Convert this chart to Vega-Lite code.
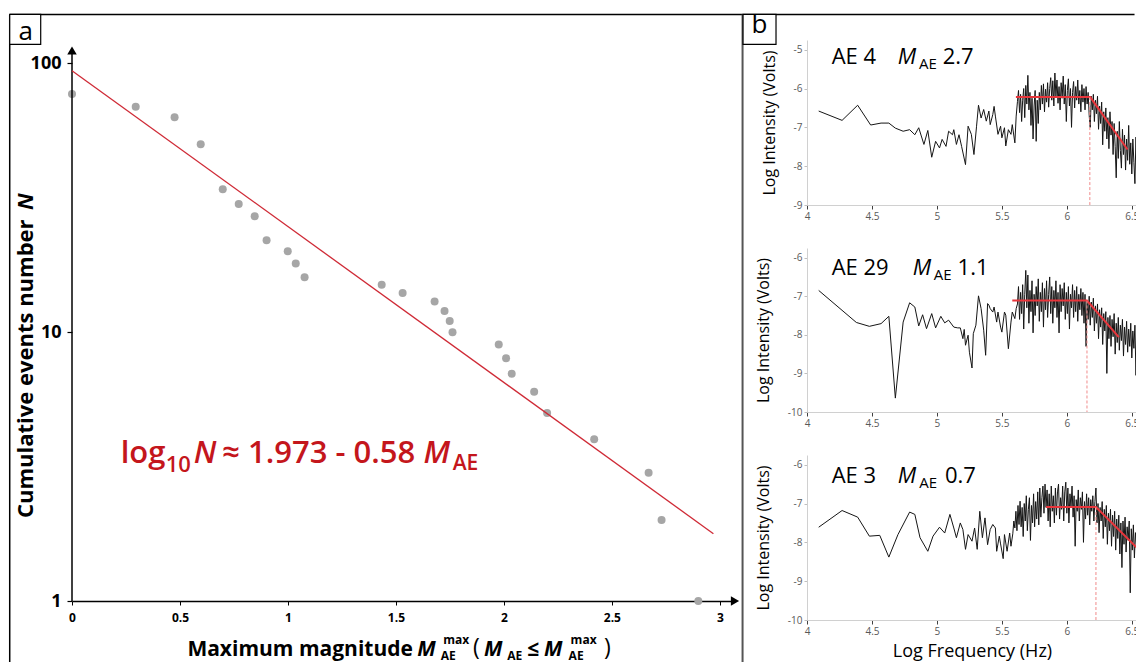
{
"$schema": "https://vega.github.io/schema/vega-lite/v6.json",
"background": "white",
"padding": {"left": 8, "top": 12, "right": 0, "bottom": 0},
"config": {"font": "Open Sans", "view": {"stroke": null}, "axis": {"grid": false}},
"data": {"values": [{}]},
"datasets": {
"ge": [{"M":0,"N":77},{"M":0.295,"N":69},{"M":0.475,"N":63},{"M":0.596,"N":50},{"M":0.698,"N":34},{"M":0.772,"N":30},{"M":0.846,"N":27},{"M":0.901,"N":22},{"M":0.999,"N":20},{"M":1.036,"N":18},{"M":1.077,"N":16},{"M":1.434,"N":15},{"M":1.531,"N":14},{"M":1.679,"N":13},{"M":1.725,"N":12},{"M":1.749,"N":11},{"M":1.762,"N":10},{"M":1.976,"N":9},{"M":2.01,"N":8},{"M":2.036,"N":7},{"M":2.14,"N":6},{"M":2.2,"N":5},{"M":2.418,"N":4},{"M":2.67,"N":3},{"M":2.73,"N":2},{"M":2.9,"N":1}],
"gefit": [{"M":0,"N":93.97},{"M":2.97,"N":1.78}],
"ae4": [{"f":4.09,"v":-6.58},{"f":4.27,"v":-6.82},{"f":4.39,"v":-6.43},{"f":4.49,"v":-6.94},{"f":4.57,"v":-6.89},{"f":4.63,"v":-6.89},{"f":4.68,"v":-7.02},{"f":4.74,"v":-7.1},{"f":4.79,"v":-7.06},{"f":4.83,"v":-7.19},{"f":4.86,"v":-7.01},{"f":4.9,"v":-7.44},{"f":4.93,"v":-7.08},{"f":4.96,"v":-7.77},{"f":4.99,"v":-7.36},{"f":5.02,"v":-7.53},{"f":5.04,"v":-7.31},{"f":5.07,"v":-7.49},{"f":5.09,"v":-7.1},{"f":5.12,"v":-7.19},{"f":5.13,"v":-7.06},{"f":5.15,"v":-7.44},{"f":5.17,"v":-7.19},{"f":5.19,"v":-7.49},{"f":5.22,"v":-7.96},{"f":5.24,"v":-6.97},{"f":5.265,"v":-7.18},{"f":5.285,"v":-7.7},{"f":5.305,"v":-6.97},{"f":5.32,"v":-6.43},{"f":5.34,"v":-6.76},{"f":5.36,"v":-6.54},{"f":5.38,"v":-6.84},{"f":5.4,"v":-6.58},{"f":5.41,"v":-6.93},{"f":5.43,"v":-6.67},{"f":5.44,"v":-6.46},{"f":5.45,"v":-6.71},{"f":5.47,"v":-7.18},{"f":5.49,"v":-6.97},{"f":5.5,"v":-7.27},{"f":5.52,"v":-7.01},{"f":5.53,"v":-7.48},{"f":5.55,"v":-7.06},{"f":5.57,"v":-7.18},{"f":5.58,"v":-6.93},{"f":5.6,"v":-7.4},{"f":5.61,"v":-6.71},{"f":5.62,"v":-6.33},
{"f":5.628,"v":-6.05},{"f":5.636,"v":-6.62},{"f":5.644,"v":-6.15},{"f":5.652,"v":-6.85},{"f":5.66,"v":-6.3},{"f":5.668,"v":-6.0},{"f":5.676,"v":-6.75},{"f":5.684,"v":-5.92},{"f":5.692,"v":-6.4},{"f":5.7,"v":-5.66},{"f":5.708,"v":-6.55},{"f":5.716,"v":-6.1},{"f":5.724,"v":-6.95},{"f":5.732,"v":-6.25},{"f":5.74,"v":-7.3},{"f":5.748,"v":-6.45},{"f":5.756,"v":-6.05},{"f":5.764,"v":-7.36},{"f":5.772,"v":-6.3},{"f":5.78,"v":-6.9},{"f":5.788,"v":-6.1},{"f":5.796,"v":-6.55},{"f":5.804,"v":-5.92},{"f":5.812,"v":-6.4},{"f":5.82,"v":-5.88},{"f":5.828,"v":-6.6},{"f":5.836,"v":-6.02},{"f":5.844,"v":-6.35},{"f":5.852,"v":-5.85},{"f":5.86,"v":-6.48},{"f":5.868,"v":-6.0},{"f":5.876,"v":-5.72},{"f":5.884,"v":-6.3},{"f":5.892,"v":-5.8},{"f":5.9,"v":-6.45},{"f":5.908,"v":-5.6},{"f":5.916,"v":-6.2},{"f":5.924,"v":-5.78},{"f":5.932,"v":-6.38},{"f":5.94,"v":-5.95},{"f":5.948,"v":-6.55},{"f":5.956,"v":-5.85},{"f":5.964,"v":-6.25},{"f":5.972,"v":-5.68},{"f":5.98,"v":-6.4},{"f":5.988,"v":-5.9},{"f":5.996,"v":-6.85},{"f":6.004,"v":-6.05},{"f":6.012,"v":-5.75},{"f":6.02,"v":-6.45},{"f":6.028,"v":-6.0},{"f":6.036,"v":-7.0},{"f":6.044,"v":-6.1},{"f":6.052,"v":-5.82},{"f":6.06,"v":-6.5},{"f":6.068,"v":-5.95},{"f":6.076,"v":-6.3},{"f":6.084,"v":-5.78},{"f":6.092,"v":-6.4},{"f":6.1,"v":-6.05},{"f":6.108,"v":-6.6},{"f":6.116,"v":-5.9},{"f":6.124,"v":-6.35},{"f":6.132,"v":-6.0},{"f":6.14,"v":-6.55},{"f":6.148,"v":-5.95},{"f":6.156,"v":-6.4},{"f":6.164,"v":-6.1},{"f":6.172,"v":-6.7},{"f":6.18,"v":-7.0},{"f":6.188,"v":-6.2},{"f":6.196,"v":-6.55},{"f":6.204,"v":-6.15},{"f":6.212,"v":-6.85},{"f":6.22,"v":-6.3},{"f":6.228,"v":-6.65},{"f":6.236,"v":-6.2},{"f":6.244,"v":-7.05},{"f":6.252,"v":-6.45},{"f":6.26,"v":-6.9},{"f":6.268,"v":-6.35},{"f":6.276,"v":-7.45},{"f":6.284,"v":-6.6},{"f":6.292,"v":-7.1},{"f":6.3,"v":-6.5},{"f":6.308,"v":-7.3},{"f":6.316,"v":-6.75},{"f":6.324,"v":-7.55},{"f":6.332,"v":-6.6},{"f":6.34,"v":-7.2},{"f":6.348,"v":-6.85},{"f":6.356,"v":-7.7},{"f":6.364,"v":-6.9},{"f":6.372,"v":-7.5},{"f":6.38,"v":-8.3},{"f":6.388,"v":-7.1},{"f":6.396,"v":-7.8},{"f":6.404,"v":-6.85},{"f":6.412,"v":-7.6},{"f":6.42,"v":-8.05},{"f":6.428,"v":-7.05},{"f":6.436,"v":-7.7},{"f":6.444,"v":-7.2},{"f":6.452,"v":-8.1},{"f":6.46,"v":-7.3},{"f":6.468,"v":-7.85},{"f":6.476,"v":-6.95},{"f":6.484,"v":-7.95},{"f":6.492,"v":-7.4},{"f":6.5,"v":-8.2},{"f":6.508,"v":-7.3},{"f":6.516,"v":-7.9},{"f":6.524,"v":-8.45},{"f":6.532,"v":-7.25},{"f":6.54,"v":-8.0}],
"ae29": [{"f":4.09,"v":-6.85},{"f":4.38,"v":-7.68},{"f":4.48,"v":-7.78},{"f":4.57,"v":-7.71},{"f":4.63,"v":-7.52},{"f":4.68,"v":-9.64},{"f":4.74,"v":-7.67},{"f":4.79,"v":-7.17},{"f":4.83,"v":-7.28},{"f":4.86,"v":-7.77},{"f":4.89,"v":-7.48},{"f":4.92,"v":-7.84},{"f":4.96,"v":-7.45},{"f":4.99,"v":-7.82},{"f":5.03,"v":-7.52},{"f":5.06,"v":-7.69},{"f":5.09,"v":-7.62},{"f":5.13,"v":-7.8},{"f":5.16,"v":-7.82},{"f":5.18,"v":-7.82},{"f":5.2,"v":-8.1},{"f":5.21,"v":-7.86},{"f":5.22,"v":-8.27},{"f":5.24,"v":-8.01},{"f":5.25,"v":-8.45},{"f":5.27,"v":-8.86},{"f":5.28,"v":-7.97},{"f":5.3,"v":-7.75},{"f":5.32,"v":-6.99},{"f":5.34,"v":-7.32},{"f":5.36,"v":-7.88},{"f":5.375,"v":-8.53},{"f":5.39,"v":-7.19},{"f":5.4,"v":-7.23},{"f":5.41,"v":-7.32},{"f":5.43,"v":-7.41},{"f":5.44,"v":-7.28},{"f":5.46,"v":-7.67},{"f":5.47,"v":-7.41},{"f":5.49,"v":-7.8},{"f":5.5,"v":-7.93},{"f":5.52,"v":-7.41},{"f":5.53,"v":-7.49},{"f":5.55,"v":-8.36},{"f":5.57,"v":-7.67},{"f":5.58,"v":-7.41},{"f":5.6,"v":-7.58},{"f":5.61,"v":-7.32},
{"f":5.62,"v":-7.2},{"f":5.628,"v":-6.75},{"f":5.636,"v":-7.6},{"f":5.644,"v":-6.9},{"f":5.652,"v":-7.45},{"f":5.66,"v":-6.7},{"f":5.668,"v":-7.85},{"f":5.676,"v":-6.95},{"f":5.684,"v":-6.33},{"f":5.692,"v":-7.3},{"f":5.7,"v":-6.45},{"f":5.708,"v":-7.7},{"f":5.716,"v":-6.85},{"f":5.724,"v":-7.4},{"f":5.732,"v":-6.6},{"f":5.74,"v":-7.95},{"f":5.748,"v":-6.95},{"f":5.756,"v":-7.5},{"f":5.764,"v":-6.75},{"f":5.772,"v":-7.25},{"f":5.78,"v":-6.55},{"f":5.788,"v":-7.65},{"f":5.796,"v":-6.9},{"f":5.804,"v":-7.4},{"f":5.812,"v":-6.65},{"f":5.82,"v":-7.8},{"f":5.828,"v":-6.8},{"f":5.836,"v":-7.35},{"f":5.844,"v":-6.6},{"f":5.852,"v":-7.55},{"f":5.86,"v":-6.95},{"f":5.868,"v":-6.5},{"f":5.876,"v":-7.45},{"f":5.884,"v":-6.75},{"f":5.892,"v":-7.7},{"f":5.9,"v":-6.85},{"f":5.908,"v":-7.3},{"f":5.916,"v":-6.6},{"f":5.924,"v":-7.55},{"f":5.932,"v":-6.9},{"f":5.94,"v":-7.95},{"f":5.948,"v":-6.7},{"f":5.956,"v":-7.4},{"f":5.964,"v":-6.8},{"f":5.972,"v":-7.25},{"f":5.98,"v":-6.65},{"f":5.988,"v":-7.6},{"f":5.996,"v":-6.9},{"f":6.004,"v":-7.45},{"f":6.012,"v":-6.75},{"f":6.02,"v":-7.85},{"f":6.028,"v":-6.95},{"f":6.036,"v":-7.3},{"f":6.044,"v":-6.7},{"f":6.052,"v":-7.55},{"f":6.06,"v":-6.85},{"f":6.068,"v":-7.4},{"f":6.076,"v":-6.75},{"f":6.084,"v":-7.65},{"f":6.092,"v":-6.95},{"f":6.1,"v":-7.35},{"f":6.108,"v":-6.8},{"f":6.116,"v":-7.5},{"f":6.124,"v":-6.9},{"f":6.132,"v":-7.7},{"f":6.14,"v":-6.95},{"f":6.148,"v":-8.3},{"f":6.156,"v":-7.1},{"f":6.164,"v":-7.6},{"f":6.172,"v":-7.0},{"f":6.18,"v":-7.75},{"f":6.188,"v":-7.15},{"f":6.196,"v":-7.55},{"f":6.204,"v":-7.05},{"f":6.212,"v":-7.9},{"f":6.22,"v":-7.25},{"f":6.228,"v":-7.7},{"f":6.236,"v":-7.2},{"f":6.244,"v":-8.1},{"f":6.252,"v":-7.35},{"f":6.26,"v":-7.8},{"f":6.268,"v":-7.3},{"f":6.276,"v":-8.25},{"f":6.284,"v":-7.45},{"f":6.292,"v":-7.9},{"f":6.3,"v":-7.4},{"f":6.308,"v":-9.0},{"f":6.316,"v":-7.55},{"f":6.324,"v":-8.1},{"f":6.332,"v":-7.5},{"f":6.34,"v":-8.3},{"f":6.348,"v":-7.6},{"f":6.356,"v":-8.05},{"f":6.364,"v":-7.45},{"f":6.372,"v":-8.5},{"f":6.38,"v":-7.7},{"f":6.388,"v":-8.2},{"f":6.396,"v":-7.55},{"f":6.404,"v":-8.4},{"f":6.412,"v":-7.75},{"f":6.42,"v":-8.15},{"f":6.428,"v":-7.6},{"f":6.436,"v":-8.55},{"f":6.444,"v":-7.8},{"f":6.452,"v":-8.25},{"f":6.46,"v":-7.65},{"f":6.468,"v":-8.45},{"f":6.476,"v":-7.85},{"f":6.484,"v":-8.3},{"f":6.492,"v":-7.7},{"f":6.5,"v":-8.6},{"f":6.508,"v":-7.9},{"f":6.516,"v":-8.35},{"f":6.524,"v":-7.75},{"f":6.532,"v":-9.05},{"f":6.54,"v":-7.95}],
"ae3": [{"f":4.09,"v":-7.61},{"f":4.27,"v":-7.18},{"f":4.39,"v":-7.35},{"f":4.48,"v":-7.84},{"f":4.56,"v":-7.82},{"f":4.63,"v":-8.38},{"f":4.7,"v":-7.8},{"f":4.79,"v":-7.22},{"f":4.83,"v":-7.28},{"f":4.87,"v":-7.88},{"f":4.93,"v":-8.23},{"f":4.97,"v":-7.84},{"f":5.02,"v":-7.61},{"f":5.06,"v":-7.76},{"f":5.1,"v":-7.28},{"f":5.13,"v":-7.63},{"f":5.15,"v":-7.88},{"f":5.18,"v":-7.5},{"f":5.2,"v":-7.67},{"f":5.22,"v":-8.18},{"f":5.24,"v":-7.8},{"f":5.27,"v":-7.97},{"f":5.29,"v":-7.63},{"f":5.31,"v":-8.18},{"f":5.33,"v":-7.2},{"f":5.35,"v":-7.88},{"f":5.37,"v":-7.37},{"f":5.39,"v":-8.06},{"f":5.41,"v":-7.67},{"f":5.43,"v":-7.54},{"f":5.45,"v":-7.63},{"f":5.46,"v":-8.23},{"f":5.48,"v":-7.84},{"f":5.49,"v":-8.04},{"f":5.51,"v":-8.42},{"f":5.52,"v":-7.8},{"f":5.54,"v":-8.23},{"f":5.56,"v":-7.76},{"f":5.57,"v":-8.1},
{"f":5.584,"v":-7.78},{"f":5.592,"v":-7.45},{"f":5.6,"v":-7.63},{"f":5.608,"v":-7.2},{"f":5.616,"v":-7.7},{"f":5.624,"v":-7.05},{"f":5.632,"v":-7.54},{"f":5.64,"v":-6.94},{"f":5.648,"v":-7.6},{"f":5.656,"v":-7.1},{"f":5.664,"v":-7.85},{"f":5.672,"v":-7.0},{"f":5.68,"v":-7.45},{"f":5.688,"v":-6.8},{"f":5.696,"v":-7.7},{"f":5.704,"v":-7.15},{"f":5.712,"v":-6.85},{"f":5.72,"v":-7.95},{"f":5.728,"v":-7.05},{"f":5.736,"v":-7.5},{"f":5.744,"v":-6.75},{"f":5.752,"v":-7.6},{"f":5.76,"v":-6.95},{"f":5.768,"v":-7.4},{"f":5.776,"v":-6.7},{"f":5.784,"v":-7.55},{"f":5.792,"v":-6.6},{"f":5.8,"v":-7.35},{"f":5.808,"v":-6.85},{"f":5.816,"v":-6.55},{"f":5.824,"v":-7.25},{"f":5.832,"v":-6.5},{"f":5.84,"v":-7.1},{"f":5.848,"v":-6.65},{"f":5.856,"v":-7.45},{"f":5.864,"v":-6.75},{"f":5.872,"v":-7.6},{"f":5.88,"v":-6.55},{"f":5.888,"v":-7.2},{"f":5.896,"v":-6.8},{"f":5.904,"v":-7.5},{"f":5.912,"v":-6.6},{"f":5.92,"v":-7.3},{"f":5.928,"v":-6.7},{"f":5.936,"v":-6.5},{"f":5.944,"v":-7.4},{"f":5.952,"v":-6.85},{"f":5.96,"v":-7.15},{"f":5.968,"v":-6.55},{"f":5.976,"v":-7.45},{"f":5.984,"v":-6.7},{"f":5.992,"v":-6.45},{"f":6.0,"v":-7.25},{"f":6.008,"v":-6.6},{"f":6.016,"v":-7.5},{"f":6.024,"v":-6.75},{"f":6.032,"v":-7.1},{"f":6.04,"v":-6.55},{"f":6.048,"v":-7.35},{"f":6.056,"v":-6.8},{"f":6.064,"v":-8.1},{"f":6.072,"v":-6.9},{"f":6.08,"v":-7.2},{"f":6.088,"v":-6.65},{"f":6.096,"v":-7.45},{"f":6.104,"v":-6.85},{"f":6.112,"v":-7.15},{"f":6.12,"v":-6.7},{"f":6.128,"v":-8.0},{"f":6.136,"v":-6.95},{"f":6.144,"v":-7.4},{"f":6.152,"v":-6.75},{"f":6.16,"v":-7.3},{"f":6.168,"v":-6.85},{"f":6.176,"v":-7.55},{"f":6.184,"v":-6.9},{"f":6.192,"v":-7.2},{"f":6.2,"v":-6.8},{"f":6.208,"v":-7.45},{"f":6.216,"v":-6.95},{"f":6.224,"v":-6.6},{"f":6.232,"v":-7.5},{"f":6.24,"v":-7.0},{"f":6.248,"v":-7.75},{"f":6.256,"v":-7.1},{"f":6.264,"v":-7.45},{"f":6.272,"v":-6.95},{"f":6.28,"v":-7.9},{"f":6.288,"v":-7.15},{"f":6.296,"v":-7.6},{"f":6.304,"v":-7.05},{"f":6.312,"v":-8.05},{"f":6.32,"v":-7.25},{"f":6.328,"v":-7.7},{"f":6.336,"v":-7.15},{"f":6.344,"v":-8.1},{"f":6.352,"v":-7.3},{"f":6.36,"v":-7.85},{"f":6.368,"v":-7.2},{"f":6.376,"v":-8.2},{"f":6.384,"v":-7.4},{"f":6.392,"v":-7.9},{"f":6.4,"v":-7.3},{"f":6.408,"v":-8.3},{"f":6.416,"v":-7.5},{"f":6.424,"v":-8.65},{"f":6.432,"v":-7.45},{"f":6.44,"v":-8.05},{"f":6.448,"v":-7.35},{"f":6.456,"v":-8.25},{"f":6.464,"v":-7.6},{"f":6.472,"v":-7.95},{"f":6.48,"v":-7.45},{"f":6.488,"v":-9.3},{"f":6.496,"v":-7.65},{"f":6.504,"v":-8.2},{"f":6.512,"v":-7.55},{"f":6.52,"v":-8.4},{"f":6.528,"v":-7.75},{"f":6.536,"v":-8.1},{"f":6.544,"v":-7.6}],
"fit4": [{"f":5.608,"v":-6.22},{"f":6.18,"v":-6.22},{"f":6.467,"v":-7.57}],
"fit29": [{"f":5.58,"v":-7.11},{"f":6.155,"v":-7.11},{"f":6.4,"v":-8.06}],
"fit3": [{"f":5.84,"v":-7.09},{"f":6.224,"v":-7.09},{"f":6.6,"v":-8.34}]
},
"bounds": "flush",
"spacing": 72,
"hconcat": [
{
"width": 663, "height": 561,
"layer": [
{"data": {"name": "ge"}, "mark": {"type": "circle", "size": 64, "color": "#a6a6a6", "opacity": 1},
 "encoding": {
  "x": {"field": "M", "type": "quantitative", "scale": {"domain": [0, 3.07], "nice": false, "zero": false},
        "axis": {"values": [0, 0.5, 1, 1.5, 2, 2.5, 3], "format": "~g", "title": null, "domainColor": "black", "domainWidth": 1.5, "tickColor": "black", "tickSize": 4, "labelFontWeight": "bold", "labelFontSize": 12, "labelColor": "black", "labelPadding": 7, "labelFlush": false, "labelOverlap": false}},
  "y": {"field": "N", "type": "quantitative", "scale": {"type": "log", "domain": [1, 122.2], "nice": false},
        "axis": {"values": [1, 10, 100], "format": "d", "title": null, "domain": false, "tickColor": "black", "tickSize": 5, "tickWidth": 1.2, "labelFontWeight": "bold", "labelFontSize": 18, "labelColor": "black", "labelPadding": 6, "labelFlush": false, "labelOverlap": false}}
 }},
{"mark": {"type": "rule", "color": "black", "strokeWidth": 1.5}, "encoding": {"x": {"datum": -0.2884, "type": "quantitative"}, "x2": {"datum": 4.92}, "y": {"datum": 152.1, "type": "quantitative"}}},
{"mark": {"type": "rule", "color": "black", "strokeWidth": 1.5}, "encoding": {"x": {"datum": -0.2884, "type": "quantitative"}, "y": {"datum": 152.1, "type": "quantitative"}, "y2": {"datum": 0.593}}},
{"mark": {"type": "rule", "color": "#555555", "strokeWidth": 2}, "encoding": {"x": {"datum": 3.105, "type": "quantitative"}, "y": {"datum": 152.1, "type": "quantitative"}, "y2": {"datum": 0.593}}},
{"mark": {"type": "rect", "fill": "white", "stroke": "black", "strokeWidth": 1.2}, "encoding": {"x": {"datum": -0.2884, "type": "quantitative"}, "x2": {"datum": -0.1449}, "y": {"datum": 152.1, "type": "quantitative"}, "y2": {"datum": 117.7}}},
{"mark": {"type": "text", "text": "a", "fontSize": 26, "align": "center", "baseline": "alphabetic", "color": "black"}, "encoding": {"x": {"datum": -0.2145, "type": "quantitative"}, "y": {"datum": 122.3, "type": "quantitative"}}},
{"mark": {"type": "rule", "color": "black", "strokeWidth": 1.5}, "encoding": {"x": {"datum": 0, "type": "quantitative"}, "y": {"datum": 1, "type": "quantitative"}, "y2": {"datum": 111.7}}},
{"mark": {"type": "point", "shape": "triangle-up", "filled": true, "size": 90, "color": "black", "opacity": 1}, "encoding": {"x": {"datum": 0, "type": "quantitative"}, "y": {"datum": 111.7, "type": "quantitative"}}},
{"mark": {"type": "point", "shape": "triangle-right", "filled": true, "size": 90, "color": "black", "opacity": 1}, "encoding": {"x": {"datum": 3.07, "type": "quantitative"}, "y": {"datum": 1, "type": "quantitative"}}},
{"data": {"name": "gefit"}, "mark": {"type": "line", "color": "#cf2a36", "strokeWidth": 1.3}, "encoding": {"x": {"field": "M", "type": "quantitative"}, "y": {"field": "N", "type": "quantitative"}}},
{"mark": {"type": "text", "text": "log", "fontSize": 31, "fontWeight": 600, "align": "left", "baseline": "alphabetic", "color": "#c4161c"}, "encoding": {"x": {"datum": 0.2255, "type": "quantitative"}, "y": {"datum": 3.26, "type": "quantitative"}}},
{"mark": {"type": "text", "text": "10", "fontSize": 22, "fontWeight": 600, "align": "left", "baseline": "alphabetic", "color": "#c4161c"}, "encoding": {"x": {"datum": 0.4338, "type": "quantitative"}, "y": {"datum": 3.017, "type": "quantitative"}}},
{"mark": {"type": "text", "text": "N", "fontSize": 31, "fontWeight": 600, "fontStyle": "italic", "align": "left", "baseline": "alphabetic", "color": "#c4161c"}, "encoding": {"x": {"datum": 0.5634, "type": "quantitative"}, "y": {"datum": 3.26, "type": "quantitative"}}},
{"mark": {"type": "text", "text": "≈ 1.973 - 0.58", "fontSize": 31, "fontWeight": 600, "align": "left", "baseline": "alphabetic", "color": "#c4161c"}, "encoding": {"x": {"datum": 0.6958, "type": "quantitative"}, "y": {"datum": 3.26, "type": "quantitative"}}},
{"mark": {"type": "text", "text": "M", "fontSize": 31, "fontWeight": 600, "fontStyle": "italic", "align": "left", "baseline": "alphabetic", "color": "#c4161c"}, "encoding": {"x": {"datum": 1.628, "type": "quantitative"}, "y": {"datum": 3.26, "type": "quantitative"}}},
{"mark": {"type": "text", "text": "AE", "fontSize": 21, "fontWeight": 600, "align": "left", "baseline": "alphabetic", "color": "#c4161c"}, "encoding": {"x": {"datum": 1.7625, "type": "quantitative"}, "y": {"datum": 3.07, "type": "quantitative"}}},
{"mark": {"type": "text", "text": "Maximum magnitude", "fontSize": 21, "fontWeight": "bold", "align": "left", "baseline": "alphabetic", "color": "black"}, "encoding": {"x": {"datum": 0.5343, "type": "quantitative"}, "y": {"datum": 0.6246, "type": "quantitative"}}},
{"mark": {"type": "text", "text": "M", "fontSize": 21, "fontWeight": "bold", "fontStyle": "italic", "align": "left", "baseline": "alphabetic", "color": "black"}, "encoding": {"x": {"datum": 1.599, "type": "quantitative"}, "y": {"datum": 0.6246, "type": "quantitative"}}},
{"mark": {"type": "text", "text": "max", "fontSize": 12, "fontWeight": "bold", "align": "left", "baseline": "alphabetic", "color": "black"}, "encoding": {"x": {"datum": 1.7194, "type": "quantitative"}, "y": {"datum": 0.6918, "type": "quantitative"}}},
{"mark": {"type": "text", "text": "AE", "fontSize": 12, "fontWeight": "bold", "align": "left", "baseline": "alphabetic", "color": "black"}, "encoding": {"x": {"datum": 1.707, "type": "quantitative"}, "y": {"datum": 0.6036, "type": "quantitative"}}},
{"mark": {"type": "text", "text": "(", "fontSize": 23, "fontWeight": "normal", "align": "left", "baseline": "alphabetic", "color": "black"}, "encoding": {"x": {"datum": 1.857, "type": "quantitative"}, "y": {"datum": 0.63, "type": "quantitative"}}},
{"mark": {"type": "text", "text": "M", "fontSize": 21, "fontWeight": "bold", "fontStyle": "italic", "align": "left", "baseline": "alphabetic", "color": "black"}, "encoding": {"x": {"datum": 1.9074, "type": "quantitative"}, "y": {"datum": 0.6246, "type": "quantitative"}}},
{"mark": {"type": "text", "text": "AE", "fontSize": 12, "fontWeight": "bold", "align": "left", "baseline": "alphabetic", "color": "black"}, "encoding": {"x": {"datum": 2.0157, "type": "quantitative"}, "y": {"datum": 0.6036, "type": "quantitative"}}},
{"mark": {"type": "text", "text": "≤", "fontSize": 21, "fontWeight": "bold", "align": "left", "baseline": "alphabetic", "color": "black"}, "encoding": {"x": {"datum": 2.1083, "type": "quantitative"}, "y": {"datum": 0.6246, "type": "quantitative"}}},
{"mark": {"type": "text", "text": "M", "fontSize": 21, "fontWeight": "bold", "fontStyle": "italic", "align": "left", "baseline": "alphabetic", "color": "black"}, "encoding": {"x": {"datum": 2.1852, "type": "quantitative"}, "y": {"datum": 0.6246, "type": "quantitative"}}},
{"mark": {"type": "text", "text": "max", "fontSize": 12, "fontWeight": "bold", "align": "left", "baseline": "alphabetic", "color": "black"}, "encoding": {"x": {"datum": 2.3088, "type": "quantitative"}, "y": {"datum": 0.6918, "type": "quantitative"}}},
{"mark": {"type": "text", "text": "AE", "fontSize": 12, "fontWeight": "bold", "align": "left", "baseline": "alphabetic", "color": "black"}, "encoding": {"x": {"datum": 2.2995, "type": "quantitative"}, "y": {"datum": 0.6036, "type": "quantitative"}}},
{"mark": {"type": "text", "text": ")", "fontSize": 23, "fontWeight": "normal", "align": "left", "baseline": "alphabetic", "color": "black"}, "encoding": {"x": {"datum": 2.463, "type": "quantitative"}, "y": {"datum": 0.63, "type": "quantitative"}}},
{"mark": {"type": "text", "text": "Cumulative events number", "fontSize": 22, "fontWeight": "bold", "angle": 270, "align": "left", "baseline": "alphabetic", "color": "black"}, "encoding": {"x": {"datum": -0.182, "type": "quantitative"}, "y": {"datum": 2.035, "type": "quantitative"}}},
{"mark": {"type": "text", "text": "N", "fontSize": 22, "fontWeight": "bold", "fontStyle": "italic", "angle": 270, "align": "right", "baseline": "alphabetic", "color": "black"}, "encoding": {"x": {"datum": -0.182, "type": "quantitative"}, "y": {"datum": 32.86, "type": "quantitative"}}}
]
},
{
"bounds": "flush",
"spacing": 43,
"vconcat": [
{
"width": 330, "height": 165,
"layer": [
{"data": {"name": "ae4"}, "mark": {"type": "line", "color": "#151515", "strokeWidth": 1, "clip": true},
 "encoding": {
  "x": {"field": "f", "type": "quantitative", "scale": {"domain": [4, 6.54], "nice": false, "zero": false},
        "axis": {"values": [4, 4.5, 5, 5.5, 6, 6.5], "format": "~g", "title": null, "domainColor": "#d0d0d0", "tickColor": "#404040", "tickSize": 4, "labelFontSize": 10, "labelColor": "#595959", "labelPadding": 2, "labelFlush": false, "labelOverlap": false}},
  "y": {"field": "v", "type": "quantitative", "scale": {"domain": [-9, -4.75], "nice": false, "zero": false},
        "axis": {"values": [-9, -8.5, -8, -7.5, -7, -6.5, -6, -5.5, -5], "labelExpr": "'' + datum.value", "title": "Log Intensity (Volts)", "titleFontSize": 16, "titleFontWeight": "normal", "titleColor": "black", "titlePadding": 16, "domainColor": "#d0d0d0", "tickColor": "#bfbfbf", "tickSize": 3, "labelFontSize": 10, "labelColor": "#595959", "labelPadding": 2, "labelFlush": false, "labelOverlap": false}}
 }},
{"data": {"name": "fit4"}, "mark": {"type": "line", "color": "#e8353b", "strokeWidth": 2, "clip": true}, "encoding": {"x": {"field": "f", "type": "quantitative"}, "y": {"field": "v", "type": "quantitative"}}},
{"mark": {"type": "rule", "color": "#f08a8a", "strokeWidth": 1, "strokeDash": [3, 2]}, "encoding": {"x": {"datum": 6.177, "type": "quantitative"}, "y": {"datum": -6.22, "type": "quantitative"}, "y2": {"datum": -9}}},
{"mark": {"type": "rect", "fill": "white", "stroke": "black", "strokeWidth": 1.2}, "encoding": {"x": {"datum": 3.5077, "type": "quantitative"}, "x2": {"datum": 3.7615}, "y": {"datum": -4.0925, "type": "quantitative"}, "y2": {"datum": -4.864}}},
{"mark": {"type": "text", "text": "b", "fontSize": 26, "align": "center", "baseline": "alphabetic", "color": "black"}, "encoding": {"x": {"datum": 3.634, "type": "quantitative"}, "y": {"datum": -4.573, "type": "quantitative"}}},
{"mark": {"type": "text", "text": "AE 4", "fontSize": 22, "align": "left", "baseline": "alphabetic", "color": "black"}, "encoding": {"x": {"datum": 4.19, "type": "quantitative"}, "y": {"datum": -5.378, "type": "quantitative"}}},
{"mark": {"type": "text", "text": "M", "fontSize": 22, "fontStyle": "italic", "align": "left", "baseline": "alphabetic", "color": "black"}, "encoding": {"x": {"datum": 4.698, "type": "quantitative"}, "y": {"datum": -5.378, "type": "quantitative"}}},
{"mark": {"type": "text", "text": "AE", "fontSize": 15, "align": "left", "baseline": "alphabetic", "color": "black"}, "encoding": {"x": {"datum": 4.862, "type": "quantitative"}, "y": {"datum": -5.506, "type": "quantitative"}}},
{"mark": {"type": "text", "text": "2.7", "fontSize": 22, "align": "left", "baseline": "alphabetic", "color": "black"}, "encoding": {"x": {"datum": 5.044, "type": "quantitative"}, "y": {"datum": -5.378, "type": "quantitative"}}}
]
},
{
"width": 330, "height": 164,
"layer": [
{"data": {"name": "ae29"}, "mark": {"type": "line", "color": "#151515", "strokeWidth": 1, "clip": true},
 "encoding": {
  "x": {"field": "f", "type": "quantitative", "scale": {"domain": [4, 6.54], "nice": false, "zero": false},
        "axis": {"values": [4, 4.5, 5, 5.5, 6, 6.5], "format": "~g", "title": null, "domainColor": "#d0d0d0", "tickColor": "#404040", "tickSize": 4, "labelFontSize": 10, "labelColor": "#595959", "labelPadding": 2, "labelFlush": false, "labelOverlap": false}},
  "y": {"field": "v", "type": "quantitative", "scale": {"domain": [-10, -5.75], "nice": false, "zero": false},
        "axis": {"values": [-10, -9.5, -9, -8.5, -8, -7.5, -7, -6.5, -6], "labelExpr": "'' + datum.value", "title": "Log Intensity (Volts)", "titleFontSize": 16, "titleFontWeight": "normal", "titleColor": "black", "titlePadding": 16, "domainColor": "#d0d0d0", "tickColor": "#bfbfbf", "tickSize": 3, "labelFontSize": 10, "labelColor": "#595959", "labelPadding": 2, "labelFlush": false, "labelOverlap": false}}
 }},
{"data": {"name": "fit29"}, "mark": {"type": "line", "color": "#e8353b", "strokeWidth": 2, "clip": true}, "encoding": {"x": {"field": "f", "type": "quantitative"}, "y": {"field": "v", "type": "quantitative"}}},
{"mark": {"type": "rule", "color": "#f08a8a", "strokeWidth": 1, "strokeDash": [3, 2]}, "encoding": {"x": {"datum": 6.155, "type": "quantitative"}, "y": {"datum": -7.11, "type": "quantitative"}, "y2": {"datum": -10}}},
{"mark": {"type": "text", "text": "AE 29", "fontSize": 22, "align": "left", "baseline": "alphabetic", "color": "black"}, "encoding": {"x": {"datum": 4.19, "type": "quantitative"}, "y": {"datum": -6.456, "type": "quantitative"}}},
{"mark": {"type": "text", "text": "M", "fontSize": 22, "fontStyle": "italic", "align": "left", "baseline": "alphabetic", "color": "black"}, "encoding": {"x": {"datum": 4.813, "type": "quantitative"}, "y": {"datum": -6.456, "type": "quantitative"}}},
{"mark": {"type": "text", "text": "AE", "fontSize": 15, "align": "left", "baseline": "alphabetic", "color": "black"}, "encoding": {"x": {"datum": 4.975, "type": "quantitative"}, "y": {"datum": -6.586, "type": "quantitative"}}},
{"mark": {"type": "text", "text": "1.1", "fontSize": 22, "align": "left", "baseline": "alphabetic", "color": "black"}, "encoding": {"x": {"datum": 5.159, "type": "quantitative"}, "y": {"datum": -6.456, "type": "quantitative"}}}
]
},
{
"width": 330, "height": 165,
"layer": [
{"data": {"name": "ae3"}, "mark": {"type": "line", "color": "#151515", "strokeWidth": 1, "clip": true},
 "encoding": {
  "x": {"field": "f", "type": "quantitative", "scale": {"domain": [4, 6.54], "nice": false, "zero": false},
        "axis": {"values": [4, 4.5, 5, 5.5, 6, 6.5], "format": "~g", "title": "Log Frequency (Hz)", "titleFontSize": 18, "titleFontWeight": "normal", "titleColor": "black", "titlePadding": 6, "domainColor": "#d0d0d0", "tickColor": "#404040", "tickSize": 4, "labelFontSize": 10, "labelColor": "#595959", "labelPadding": 2, "labelFlush": false, "labelOverlap": false}},
  "y": {"field": "v", "type": "quantitative", "scale": {"domain": [-10, -5.75], "nice": false, "zero": false},
        "axis": {"values": [-10, -9.5, -9, -8.5, -8, -7.5, -7, -6.5, -6], "labelExpr": "'' + datum.value", "title": "Log Intensity (Volts)", "titleFontSize": 16, "titleFontWeight": "normal", "titleColor": "black", "titlePadding": 16, "domainColor": "#d0d0d0", "tickColor": "#bfbfbf", "tickSize": 3, "labelFontSize": 10, "labelColor": "#595959", "labelPadding": 2, "labelFlush": false, "labelOverlap": false}}
 }},
{"data": {"name": "fit3"}, "mark": {"type": "line", "color": "#e8353b", "strokeWidth": 2, "clip": true}, "encoding": {"x": {"field": "f", "type": "quantitative"}, "y": {"field": "v", "type": "quantitative"}}},
{"mark": {"type": "rule", "color": "#f08a8a", "strokeWidth": 1, "strokeDash": [3, 2]}, "encoding": {"x": {"datum": 6.224, "type": "quantitative"}, "y": {"datum": -7.09, "type": "quantitative"}, "y2": {"datum": -10}}},
{"mark": {"type": "text", "text": "AE 3", "fontSize": 22, "align": "left", "baseline": "alphabetic", "color": "black"}, "encoding": {"x": {"datum": 4.19, "type": "quantitative"}, "y": {"datum": -6.473, "type": "quantitative"}}},
{"mark": {"type": "text", "text": "M", "fontSize": 22, "fontStyle": "italic", "align": "left", "baseline": "alphabetic", "color": "black"}, "encoding": {"x": {"datum": 4.698, "type": "quantitative"}, "y": {"datum": -6.473, "type": "quantitative"}}},
{"mark": {"type": "text", "text": "AE", "fontSize": 15, "align": "left", "baseline": "alphabetic", "color": "black"}, "encoding": {"x": {"datum": 4.864, "type": "quantitative"}, "y": {"datum": -6.6, "type": "quantitative"}}},
{"mark": {"type": "text", "text": "0.7", "fontSize": 22, "align": "left", "baseline": "alphabetic", "color": "black"}, "encoding": {"x": {"datum": 5.062, "type": "quantitative"}, "y": {"datum": -6.473, "type": "quantitative"}}}
]
}
]
}
]
}
